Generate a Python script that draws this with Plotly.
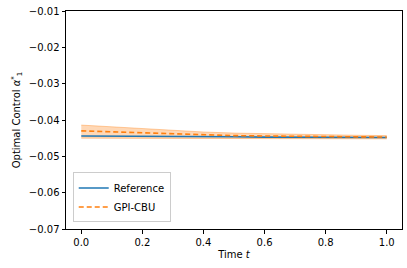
import plotly.graph_objects as go

t = [0.0, 0.1, 0.2, 0.3, 0.4, 0.5, 0.6, 0.7, 0.8, 0.9, 1.0]
reference = [-0.0444, -0.0444, -0.0445, -0.0445, -0.0446, -0.0446, -0.0447, -0.0447, -0.0447, -0.0448, -0.0448]
gpi_mean = [-0.0430, -0.0433, -0.0436, -0.0439, -0.0441, -0.0443, -0.0444, -0.0445, -0.0446, -0.0446, -0.0447]
gpi_upper = [-0.0414, -0.0419, -0.0424, -0.0429, -0.0433, -0.0436, -0.0438, -0.0440, -0.0441, -0.0442, -0.0443]
gpi_lower = [-0.0450, -0.0450, -0.0450, -0.0450, -0.0451, -0.0451, -0.0451, -0.0451, -0.0452, -0.0452, -0.0452]

x_ticks = [0.0, 0.2, 0.4, 0.6, 0.8, 1.0]
y_ticks = [-0.01, -0.02, -0.03, -0.04, -0.05, -0.06, -0.07]

blue = "#1f77b4"
orange = "#ff7f0e"

fig = go.Figure()
fig.add_trace(go.Scatter(x=t, y=gpi_upper, mode="lines",
                         line=dict(color="rgba(255,127,14,0.35)", width=1),
                         showlegend=False, hoverinfo="skip"))
fig.add_trace(go.Scatter(x=t, y=gpi_lower, mode="lines", fill="tonexty",
                         fillcolor="rgba(255,127,14,0.3)",
                         line=dict(color="rgba(255,127,14,0.35)", width=1),
                         showlegend=False, hoverinfo="skip"))
fig.add_trace(go.Scatter(x=t, y=reference, mode="lines", name="Reference",
                         line=dict(color=blue, width=1.6)))
fig.add_trace(go.Scatter(x=t, y=gpi_mean, mode="lines", name="GPI-CBU",
                         line=dict(color=orange, width=1.6, dash="5px,3px")))

axis_common = dict(showline=True, linecolor="black", linewidth=1, mirror=True,
                   ticks="outside", ticklen=3.5, tickcolor="black",
                   showgrid=False, zeroline=False, automargin=False,
                   tickfont=dict(family="DejaVu Sans", size=10, color="black"))

fig.update_layout(
    width=407, height=268,
    margin=dict(l=66, r=5, t=11, b=39),
    plot_bgcolor="white", paper_bgcolor="white",
    font=dict(family="DejaVu Sans", size=10, color="black"),
    xaxis=dict(range=[-0.05, 1.05], tickvals=x_ticks,
               ticktext=[f"{v:.1f}" for v in x_ticks],
               title=dict(text="Time <i>t</i>", standoff=4, font=dict(size=10)),
               **axis_common),
    yaxis=dict(range=[-0.07, -0.01], tickvals=y_ticks,
               ticktext=[f"{v:.2f}".replace("-", "\u2212") for v in y_ticks],
               title=dict(text="Optimal Control <i>α</i><sup>*</sup><sub>1</sub>", standoff=6, font=dict(size=10)),
               **axis_common),
    legend=dict(x=0.02, y=0.03, xanchor="left", yanchor="bottom",
                traceorder="normal",
                bgcolor="rgba(255,255,255,0.8)", bordercolor="#cccccc", borderwidth=1,
                font=dict(size=10), tracegroupgap=0, itemwidth=30),
    showlegend=True,
)

fig.write_html("out.html",
               config={"displayModeBar": False},
               post_script="document.body.style.margin='0';document.body.style.overflow='hidden';")
